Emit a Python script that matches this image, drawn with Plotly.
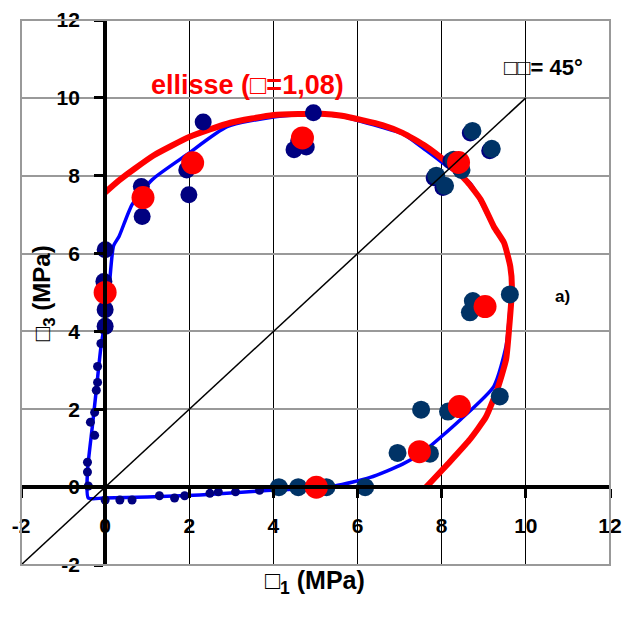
import plotly.graph_objects as go

# ---- data ----
small_x = [-0.1, -0.18, -0.18, -0.21, -0.25, -0.35, -0.25, -0.42, -0.42, -0.4,
           0.0, 0.35, 0.64, 1.29, 1.65, 1.89, 2.49, 2.69, 3.1, 3.67]
small_y = [3.69, 3.1, 2.69, 2.49, 1.92, 1.67, 1.33, 0.64, 0.39, 0.03,
           -0.33, -0.33, -0.33, -0.22, -0.28, -0.22, -0.16, -0.12, -0.12, -0.08]

navy_x = [0.0, -0.03, 0.0, 0.0, 0.86, 0.88, 1.94, 1.99, 2.33, 4.49, 4.78, 4.95, 4.6,
          8.22, 8.43, 7.82, 8.03, 8.68, 9.14]
navy_y = [6.1, 5.28, 4.56, 4.13, 7.72, 6.95, 8.15, 7.51, 9.38, 8.67, 8.74, 9.62, 8.9,
          8.38, 8.2, 7.95, 7.7, 9.1, 8.64]

dark_x = [4.13, 4.59, 5.26, 6.18, 7.72, 6.95, 8.15, 7.51, 9.38, 8.67, 8.74, 9.62,
          8.73, 9.19, 7.87, 8.08, 8.28, 8.47]
dark_y = [0.0, 0.0, 0.0, 0.0, 0.86, 0.88, 1.94, 1.99, 2.33, 4.49, 4.78, 4.95,
          9.15, 8.69, 8.0, 7.74, 8.41, 8.15]

red_x = [0.0, 0.9, 2.08, 4.69, 8.4, 9.03, 8.42, 7.47, 5.02]
red_y = [5.0, 7.44, 8.33, 8.97, 8.34, 4.64, 2.07, 0.91, 0.0]

blue_x = [8.45, 7.55, 7.07, 6.3, 5.45, 3.7, 2.25, 1.0, -0.04, -0.4, -0.42, -0.3, -0.2,
          -0.1, 0.0, 0.1, 0.2, 0.33, 0.64, 1.12, 1.94, 2.9, 4.0, 5.0, 5.63, 6.59,
          7.07, 7.63, 8.11, 8.68, 9.24, 9.48, 9.63, 9.65, 9.6, 9.53, 9.24, 8.45]
blue_y = [1.74, 0.9, 0.59, 0.25, 0.03, -0.1, -0.2, -0.25, -0.28, -0.28, 0.4, 1.6, 2.6,
          3.6, 4.3, 5.2, 6.2, 6.44, 7.26, 7.9, 8.54, 9.26, 9.51, 9.58, 9.52, 9.24,
          9.08, 8.65, 8.26, 7.8, 6.68, 6.27, 5.67, 5.1, 4.3, 3.62, 2.59, 1.74]

ell_x = [0.0, 0.33, 0.7, 1.15, 2.01, 2.98, 4.0, 5.14, 5.63, 6.59, 7.07, 7.63, 8.11,
         8.6, 8.93, 9.24, 9.48, 9.63, 9.67, 9.6, 9.53, 9.32, 9.05, 8.65, 8.15, 7.63]
ell_y = [7.57, 7.88, 8.18, 8.52, 9.0, 9.36, 9.56, 9.59, 9.54, 9.3, 9.1, 8.75, 8.35,
         7.85, 7.38, 6.69, 6.28, 5.67, 5.12, 4.05, 3.28, 2.51, 1.8, 1.2, 0.6, 0.0]

diag_x = [-2, 10]
diag_y = [-2, 10]

tick_vals = [-2, 0, 2, 4, 6, 8, 10, 12]

FONT = "Liberation Sans, Arial, sans-serif"

fig = go.Figure()
fig.add_trace(go.Scatter(x=blue_x, y=blue_y, mode="lines",
                         line=dict(color="#0000FF", width=3.5, shape="spline",
                                   smoothing=0.6), hoverinfo="skip"))
fig.add_trace(go.Scatter(x=ell_x, y=ell_y, mode="lines",
                         line=dict(color="#FF0000", width=6, shape="spline",
                                   smoothing=0.5), hoverinfo="skip"))
fig.add_trace(go.Scatter(x=small_x, y=small_y, mode="markers",
                         marker=dict(color="#000080", size=9, line=dict(width=0))))
fig.add_trace(go.Scatter(x=navy_x, y=navy_y, mode="markers",
                         marker=dict(color="#000080", size=17, line=dict(width=0))))
fig.add_trace(go.Scatter(x=dark_x, y=dark_y, mode="markers",
                         marker=dict(color="#003366", size=18, line=dict(width=0))))
fig.add_trace(go.Scatter(x=red_x, y=red_y, mode="markers",
                         marker=dict(color="#FF0000", size=23, line=dict(width=0))))
fig.add_trace(go.Scatter(x=diag_x, y=diag_y, mode="lines",
                         line=dict(color="black", width=1.5), hoverinfo="skip"))

axis_common = dict(
    tickvals=tick_vals, ticktext=[str(v) for v in tick_vals],
    showline=True, linecolor="black", linewidth=4,
    ticks="outside", ticklen=9, tickwidth=3, tickcolor="black",
    zeroline=False, anchor="free", position=2 / 14, automargin=False,
    tickfont=dict(family=FONT, size=21, color="black", weight="bold"),
    range=[-2, 12], fixedrange=True,
)

fig.update_layout(
    width=624, height=617,
    margin=dict(l=21, r=14, t=20, b=52, autoexpand=False),
    paper_bgcolor="white", plot_bgcolor="white",
    showlegend=False, hovermode=False,
    xaxis=dict(**axis_common, showgrid=True, gridcolor="black", gridwidth=1,
               ticklabelstandoff=10),
    yaxis=dict(**axis_common, showgrid=True, gridcolor="#999999", gridwidth=2,
               ticklabelstandoff=10),
    shapes=[dict(type="rect", xref="paper", yref="paper", x0=0, y0=0, x1=1, y1=1,
                 line=dict(color="#999999", width=2), layer="above")],
    annotations=[
        dict(x=3.38, y=10.33, xref="x", yref="y", showarrow=False,
             text="<b>ellisse (□=1,08)</b>",
             font=dict(family=FONT, size=27, color="#FF0000")),
        dict(x=10.42, y=10.79, xref="x", yref="y", showarrow=False,
             text="<b>□□= 45°</b>",
             font=dict(family=FONT, size=22, color="black")),
        dict(x=10.88, y=4.9, xref="x", yref="y", showarrow=False,
             text="<b>a)</b>",
             font=dict(family=FONT, size=17, color="black")),
        dict(x=-1.48, y=4.98, xref="x", yref="y", showarrow=False, textangle=-90,
             text="<b>□<sub>3</sub> (MPa)</b>",
             font=dict(family=FONT, size=24, color="black")),
        dict(x=(315 - 21) / 589, y=(565 - 600) / 545, xref="paper", yref="paper",
             showarrow=False, text="<b>□<sub>1</sub> (MPa)</b>",
             font=dict(family=FONT, size=25, color="black")),
    ],
)

fig.write_html(
    "out.html",
    config={"displayModeBar": False, "staticPlot": True},
    post_script="document.body.style.margin='0px';document.body.style.overflow='hidden';",
)
